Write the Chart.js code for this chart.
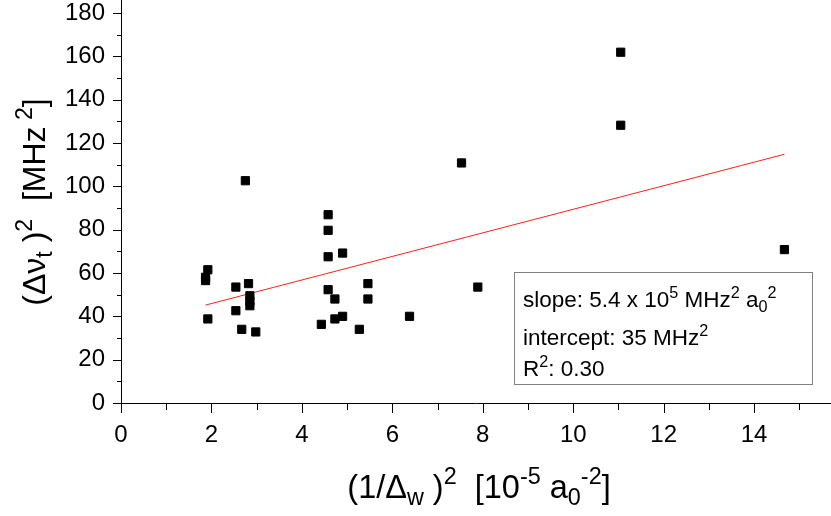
<!DOCTYPE html>
<html>
<head>
<meta charset="utf-8">
<script src="https://cdn.jsdelivr.net/npm/chart.js@4.4.1/dist/chart.umd.min.js"></script>
<style>
  html, body { margin: 0; padding: 0; background: #fff; }
  #wrap { width: 831px; height: 516px; position: relative; }
</style>
</head>
<body>
<div id="wrap"><canvas id="chart"></canvas></div>
<script>
const pointsX = [1.92, 1.87, 1.87, 1.92, 2.75, 2.54, 2.82, 2.85, 2.85, 2.85, 2.54, 2.67, 2.98,
                 4.58, 4.58, 4.58, 4.58, 4.90, 4.73, 5.46, 5.46, 4.43, 4.73, 4.90, 5.27,
                 6.38, 7.89, 7.53, 11.05, 11.05, 14.67];
const pointsY = [61.5, 58.0, 56.5, 38.8, 102.6, 53.5, 55.1, 49.5, 47.0, 44.9, 42.6, 34.0, 32.8,
                 86.9, 79.7, 67.5, 52.3, 69.2, 48.0, 55.1, 48.0, 36.3, 38.8, 40.0, 34.0,
                 40.0, 53.5, 110.8, 161.9, 128.2, 70.8];

// Linear fit end points
const fitX = [1.87, 14.67];
const fitY = [45.2, 114.8];

// Axis ticks (minor + major)
const xTicks = [0, 1, 2, 3, 4, 5, 6, 7, 8, 9, 10, 11, 12, 13, 14, 15];
const xLabels = ['0', '', '2', '', '4', '', '6', '', '8', '', '10', '', '12', '', '14', ''];
const yTicks = [0, 10, 20, 30, 40, 50, 60, 70, 80, 90, 100, 110, 120, 130, 140, 150, 160, 170, 180];
const yLabels = ['0', '', '20', '', '40', '', '60', '', '80', '', '100', '', '120', '', '140', '', '160', '', '180'];

const FONT = '"Liberation Sans", Arial, sans-serif';

// Draw text made of normal / superscript / subscript parts
function drawRich(ctx, parts, x, y, size, align) {
    const fontOf = p => (p[1] === 'n' ? size : size * 0.72) + 'px ' + FONT;
    const widths = parts.map(p => {
        ctx.font = fontOf(p);
        return ctx.measureText(p[0]).width;
    });
    const total = widths.reduce((a, b) => a + b, 0);
    let cx = align === 'center' ? x - total / 2 : x;
    ctx.textAlign = 'left';
    ctx.textBaseline = 'alphabetic';
    parts.forEach((p, i) => {
        ctx.font = fontOf(p);
        let dy = 0;
        if (p[1] === 'sup') dy = -0.42 * size;
        if (p[1] === 'sub') dy = 0.22 * size;
        ctx.fillText(p[0], cx, y + dy);
        cx += widths[i];
    });
}

const xTitle = [['(1/Δ', 'n'], ['w', 'sub'], [' )', 'n'], ['2', 'sup'], ['  [10', 'n'], ['-5', 'sup'],
                [' a', 'n'], ['0', 'sub'], ['-2', 'sup'], [']', 'n']];
const yTitle = [['(Δν', 'n'], ['t', 'sub'], [' )', 'n'], ['2', 'sup'], ['  [MHz', 'n'], [' 2', 'sup'], [']', 'n']];
const boxLines = [
    [['slope: 5.4 x 10', 'n'], ['5', 'sup'], [' MHz', 'n'], ['2', 'sup'], [' a', 'n'], ['0', 'sub'], ['2', 'sup']],
    [['intercept: 35 MHz', 'n'], ['2', 'sup']],
    [['R', 'n'], ['2', 'sup'], [': 0.30', 'n']]
];

// Outward tick marks, axis titles and the fit box
const decorations = {
    id: 'decorations',
    afterDraw(chart) {
        const ctx = chart.ctx;
        const xs = chart.scales.x, ys = chart.scales.y;
        const area = chart.chartArea;
        ctx.save();
        ctx.strokeStyle = '#000';
        ctx.lineWidth = 1;
        ctx.beginPath();
        xTicks.forEach((v, i) => {
            const px = Math.round(xs.getPixelForValue(v)) + 0.5;
            const len = xLabels[i] ? 10 : 7;
            ctx.moveTo(px, area.bottom);
            ctx.lineTo(px, area.bottom + len);
        });
        yTicks.forEach((v, i) => {
            const py = Math.round(ys.getPixelForValue(v)) + 0.5;
            const len = yLabels[i] ? 8 : 4;
            ctx.moveTo(area.left, py);
            ctx.lineTo(area.left - len, py);
        });
        ctx.stroke();

        ctx.fillStyle = '#000';
        drawRich(ctx, xTitle, 479, 498, 32.5, 'center');
        ctx.save();
        ctx.translate(45, 202);
        ctx.rotate(-Math.PI / 2);
        drawRich(ctx, yTitle, 0, 0, 32, 'center');
        ctx.restore();

        // fit result box
        ctx.fillStyle = '#fff';
        ctx.fillRect(514.5, 272.5, 298, 112);
        ctx.strokeStyle = '#808080';
        ctx.strokeRect(514.5, 272.5, 298, 112);
        ctx.fillStyle = '#000';
        const baselines = [307, 345, 376];
        boxLines.forEach((line, i) => drawRich(ctx, line, 523, baselines[i], 22.5, 'left'));
        ctx.restore();
    }
};

const ctx = document.getElementById('chart').getContext('2d');
const chart = new Chart(ctx, {
    type: 'scatter',
    data: {
        datasets: [{
            label: 'data',
            data: pointsX.map((x, i) => ({ x: x, y: pointsY[i] })),
            pointStyle: 'rect',
            radius: 5.8,
            backgroundColor: '#000',
            borderColor: '#000',
            borderWidth: 1
        }, {
            label: 'fit',
            type: 'line',
            data: fitX.map((x, i) => ({ x: x, y: fitY[i] })),
            borderColor: '#ff2020',
            borderWidth: 1,
            pointRadius: 0,
            fill: false
        }]
    },
    options: {
        responsive: true,
        maintainAspectRatio: false,
        animation: false,
        layout: { padding: 0, autoPadding: false },
        plugins: {
            legend: { display: false },
            tooltip: { enabled: false }
        },
        scales: {
            x: {
                type: 'linear',
                min: 0,
                max: 15.7,
                afterBuildTicks: scale => { scale.ticks = xTicks.map(v => ({ value: v })); },
                afterFit: scale => {
                    scale.height = 113;
                    scale.paddingLeft = 0;
                    scale.paddingRight = 0;
                },
                grid: { display: false, drawTicks: false },
                border: { display: true, color: '#000', width: 1 },
                ticks: {
                    autoSkip: false,
                    maxRotation: 0,
                    padding: 18,
                    color: '#000',
                    font: { family: FONT, size: 24 },
                    callback: (v, i) => xLabels[i]
                }
            },
            y: {
                type: 'linear',
                min: 0,
                max: 186,
                afterBuildTicks: scale => { scale.ticks = yTicks.map(v => ({ value: v })); },
                afterFit: scale => {
                    scale.width = 121;
                    scale.paddingTop = 0;
                    scale.paddingBottom = 0;
                },
                grid: { display: false, drawTicks: false },
                border: { display: true, color: '#000', width: 1 },
                ticks: {
                    autoSkip: false,
                    padding: 16,
                    color: '#000',
                    font: { family: FONT, size: 24 },
                    callback: (v, i) => yLabels[i]
                }
            }
        }
    },
    plugins: [decorations]
});
</script>
</body>
</html>
